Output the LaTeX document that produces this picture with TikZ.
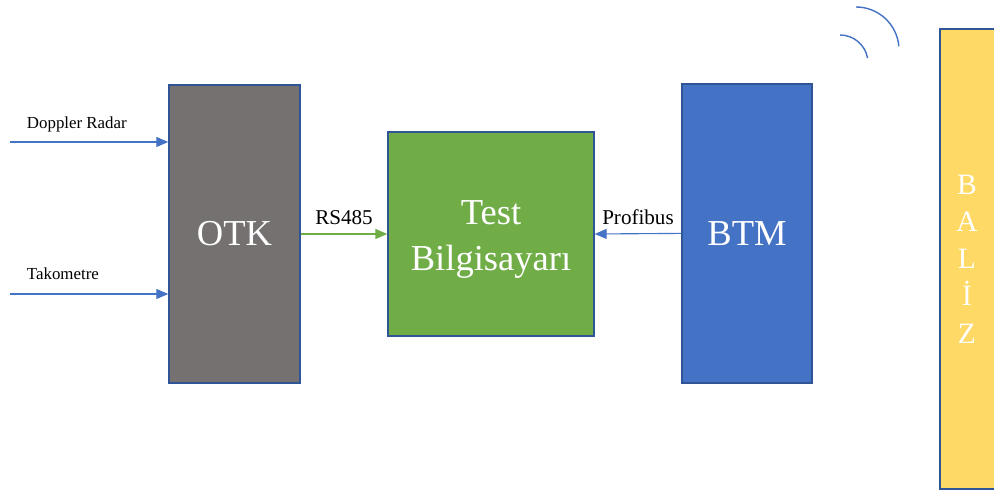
\documentclass[tikz,border=0pt]{standalone}
\usepackage{fontspec}
\setmainfont{Liberation Serif}
\usetikzlibrary{arrows.meta}
\definecolor{otkgray}{RGB}{118,113,113}
\definecolor{pcgreen}{RGB}{112,173,71}
\definecolor{btmblue}{RGB}{68,114,196}
\definecolor{balizyellow}{RGB}{255,217,102}
\definecolor{edgeblue}{RGB}{47,85,151}

\begin{document}
\begin{tikzpicture}[
  box/.style={draw=edgeblue, line width=1pt, inner sep=0pt, text=white,
    align=center, font=\fontsize{26}{33}\selectfont},
  sig/.style={-{Triangle[length=3mm,width=2.5mm]}, line width=0.8pt},
  siglabel/.style={font=\fontsize{15}{18}\selectfont, text=black},
  inlabel/.style={font=\fontsize{12}{14}\selectfont, text=black, anchor=west}
]

% ── Canvas ───────────────────────────────────────────────────────────
\def\canvasW{24.85}
\def\canvasH{12.275}
\useasboundingbox (0,0) rectangle (\canvasW,\canvasH);

% ── Blocks ───────────────────────────────────────────────────────────
\node[box, fill=otkgray, minimum width=3.275cm, minimum height=7.45cm]
  (otk) at (5.8625,6.425) {OTK};
\node[box, fill=pcgreen, minimum width=5.15cm, minimum height=5.1cm]
  (test) at (12.275,6.425) {};
\node[text=white, align=center, font=\fontsize{26}{33}\selectfont]
  (testtxt) at ([yshift=-0.13cm]test.center) {Test\\Bilgisayarı};
\node[box, fill=btmblue, minimum width=3.25cm, minimum height=7.475cm]
  (btm) at (18.675,6.44) {BTM};

% balise: runs past the right edge
\begin{scope}
  \clip (0,0) rectangle (\canvasW,\canvasH);
  \fill[balizyellow, draw=edgeblue, line width=1pt] (23.5,0.05) rectangle (25.3,11.55);
\end{scope}
\node[text=white, align=center, font=\fontsize{21}{26.5}\selectfont]
  (baliz) at (24.175,5.8) {B\\A\\L\\İ\\Z};

% ── Inputs to OTK ────────────────────────────────────────────────────
\coordinate (dopplerin) at (0.25,8.725);
\coordinate (takoin) at (0.25,4.925);
\draw[sig, btmblue] (dopplerin) -- (otk.west |- dopplerin);
\draw[sig, btmblue] (takoin) -- (otk.west |- takoin);
\node[inlabel] (dopplerlbl) at (0.55,9.175) {Doppler Radar};
\node[inlabel] (takolbl) at (0.55,5.425) {Takometre};

% ── Bus links ────────────────────────────────────────────────────────
\draw[sig, pcgreen] (otk.east) -- node[siglabel, above=3pt] (rslbl) {RS485} (test.west);
\draw[sig, btmblue] (btm.west) -- node[siglabel, above=3pt] (pblbl) {Profibus} (test.east);

% ── Radio waves ──────────────────────────────────────────────────────
\draw[btmblue, line width=1pt] (21.0,11.4) arc[start angle=90, end angle=10, radius=0.7];
\draw[btmblue, line width=1pt] (21.4,12.1) arc[start angle=90, end angle=5, radius=1.075];

\end{tikzpicture}
\end{document}
